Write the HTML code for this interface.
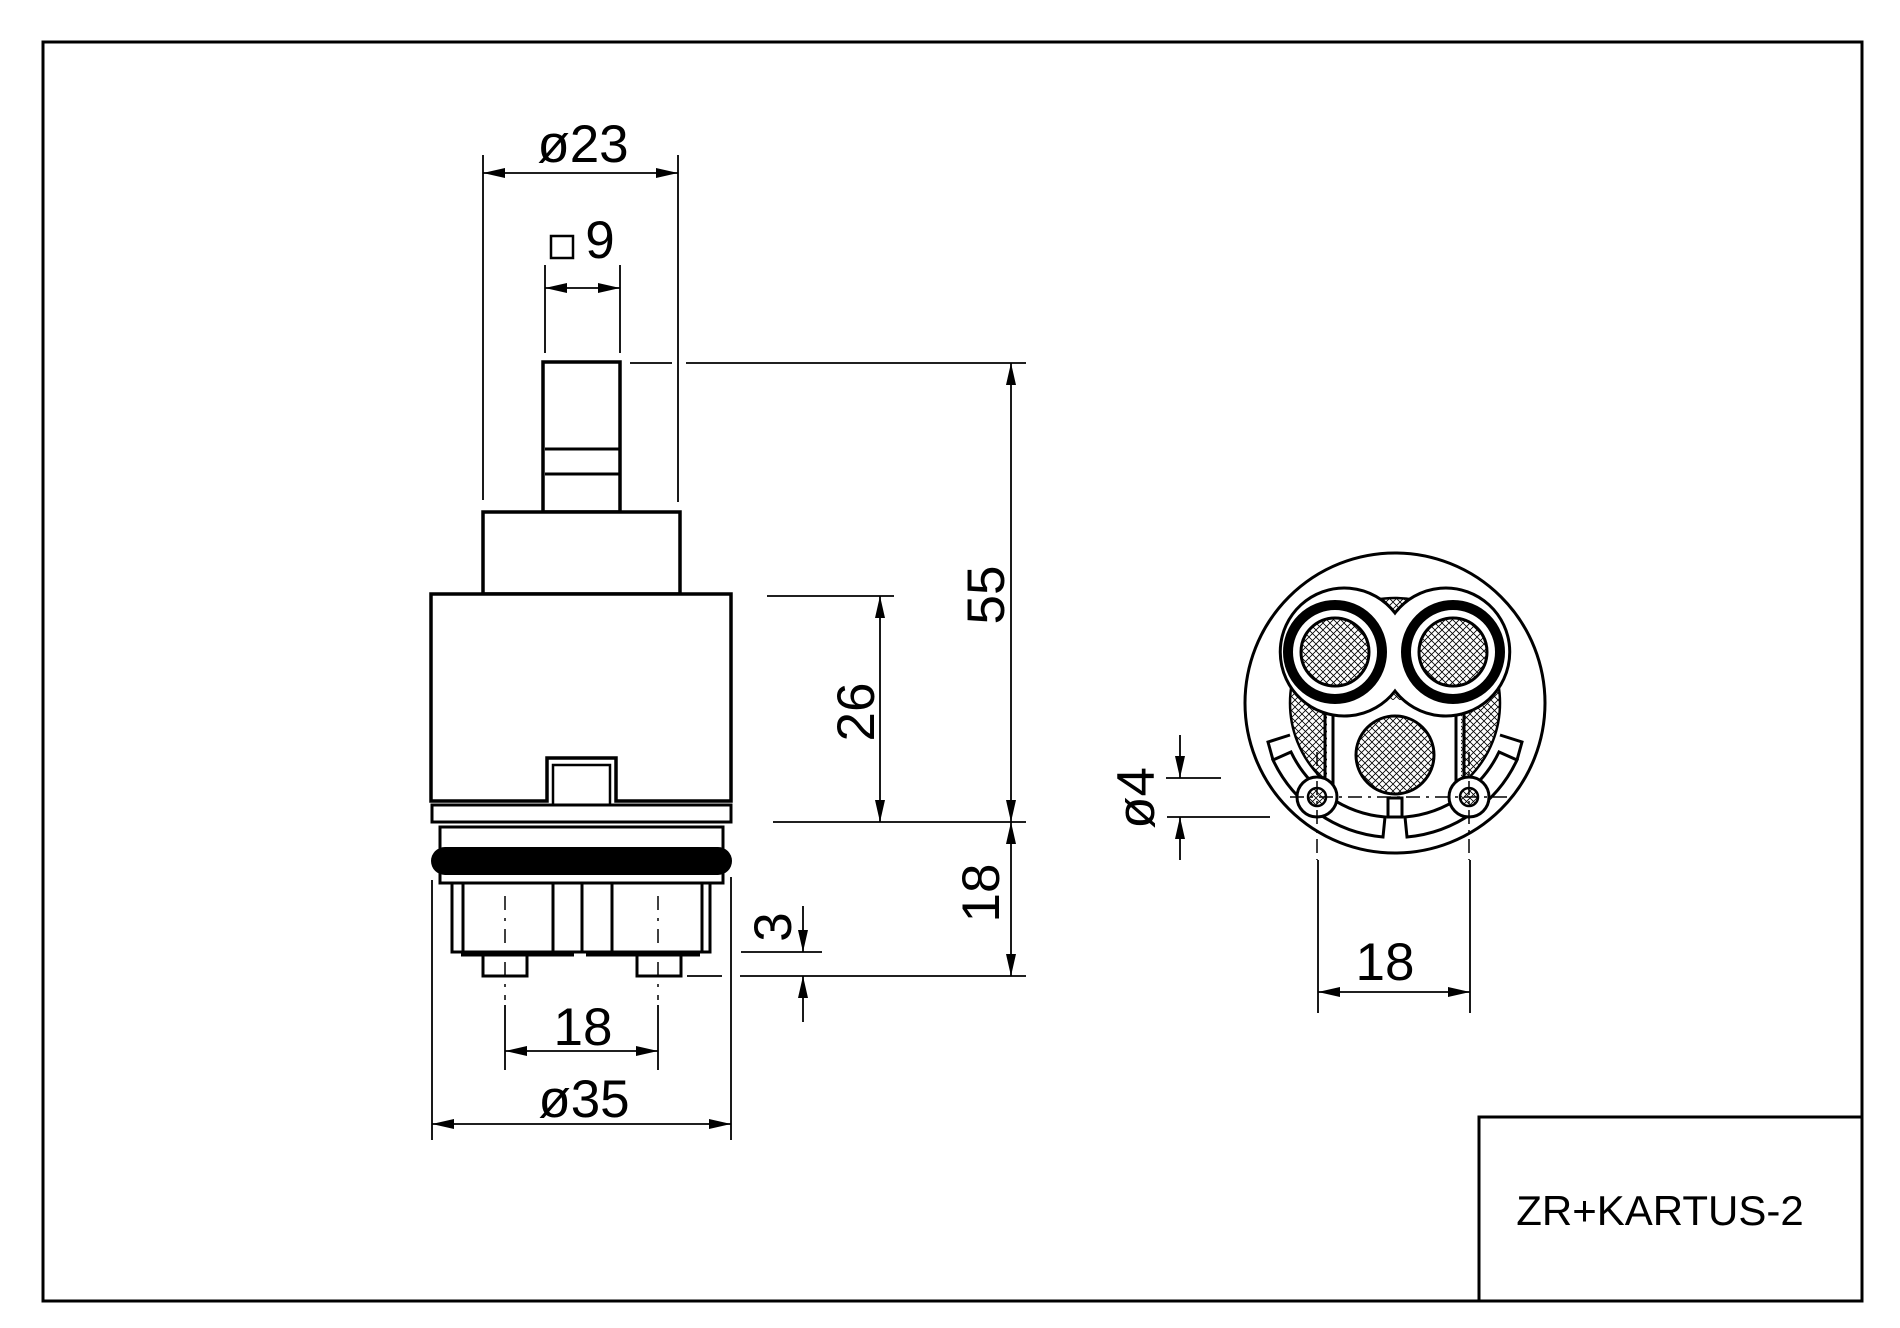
<!DOCTYPE html>
<html><head><meta charset="utf-8"><style>
html,body{margin:0;padding:0;background:#fff;}
svg{display:block;}
text{font-family:"Liberation Sans",Arial,sans-serif;fill:#000;}
</style></head><body>
<svg width="1900" height="1328" viewBox="0 0 1900 1328" xmlns="http://www.w3.org/2000/svg">
<defs>
<pattern id="h" width="7" height="7" patternUnits="userSpaceOnUse">
<rect width="7" height="7" fill="#fff"/>
<path d="M0 0L7 7M7 0L0 7" stroke="#000" stroke-width="0.8"/>
</pattern>
<marker id="a" viewBox="0 0 22 10" refX="22" refY="5" markerWidth="22" markerHeight="10" markerUnits="userSpaceOnUse" orient="auto-start-reverse"><path d="M0 0L22 5L0 10z" fill="#000"/></marker>
</defs>
<g fill="none" stroke="#000">
<rect x="43" y="42" width="1819" height="1259" stroke-width="3"/>
<rect x="1479" y="1117" width="383" height="184" stroke-width="3"/>

<g stroke-width="3.5" fill="#fff">
<rect x="543" y="362" width="77" height="150"/>
<rect x="483" y="512" width="197" height="82"/>
<path d="M431 594H731V801H616V758H547V801H431Z"/>
<rect x="432" y="805" width="299" height="17" stroke-width="3"/>
<path d="M553 805V765H610V805" fill="none" stroke-width="2.5"/>
<rect x="440" y="827" width="283" height="56" stroke-width="3"/>
<rect x="452" y="883" width="258" height="69" stroke-width="3"/>
<rect x="483" y="952" width="44" height="24" stroke-width="3"/>
<rect x="637" y="952" width="44" height="24" stroke-width="3"/>
</g>
<line x1="545" y1="449" x2="619" y2="449" stroke-width="3"/>
<line x1="545" y1="474" x2="619" y2="474" stroke-width="3"/>
<rect x="431" y="847" width="301" height="28" rx="14" fill="#000" stroke="none"/>
<g stroke-width="3">
<line x1="463" y1="883" x2="463" y2="952"/>
<line x1="702" y1="883" x2="702" y2="952"/>
<line x1="553" y1="883" x2="553" y2="952"/>
<line x1="582" y1="883" x2="582" y2="952"/>
<line x1="612" y1="883" x2="612" y2="952"/>
</g>
<g stroke-width="5">
<line x1="461" y1="954" x2="574" y2="954"/>
<line x1="586" y1="954" x2="700" y2="954"/>
</g>
<g stroke-width="1.5" stroke-dasharray="14,8,3,8">
<line x1="505" y1="896" x2="505" y2="1000"/>
<line x1="658" y1="896" x2="658" y2="1000"/>
</g>
<g stroke-width="1.8">
<line x1="505" y1="1005" x2="505" y2="1070"/>
<line x1="658" y1="1005" x2="658" y2="1070"/>
<line x1="483" y1="155" x2="483" y2="500"/>
<line x1="678" y1="155" x2="678" y2="502"/>
<line x1="545" y1="265" x2="545" y2="353"/>
<line x1="620" y1="265" x2="620" y2="353"/>
<line x1="630" y1="363" x2="672" y2="363"/>
<line x1="686" y1="363" x2="1026" y2="363"/>
<line x1="767" y1="596" x2="894" y2="596"/>
<line x1="773" y1="822" x2="1026" y2="822"/>
<line x1="687" y1="976" x2="722" y2="976"/>
<line x1="740" y1="976" x2="1026" y2="976"/>
<line x1="741" y1="952" x2="822" y2="952"/>
<line x1="432" y1="880" x2="432" y2="1140"/>
<line x1="731" y1="877" x2="731" y2="1140"/>
<line x1="483" y1="173" x2="678" y2="173" marker-start="url(#a)" marker-end="url(#a)"/>
<line x1="545" y1="288" x2="620" y2="288" marker-start="url(#a)" marker-end="url(#a)"/>
<line x1="1011" y1="363" x2="1011" y2="822" marker-start="url(#a)" marker-end="url(#a)"/>
<line x1="880" y1="596" x2="880" y2="822" marker-start="url(#a)" marker-end="url(#a)"/>
<line x1="1011" y1="822" x2="1011" y2="976" marker-start="url(#a)" marker-end="url(#a)"/>
<line x1="803" y1="906" x2="803" y2="952" marker-end="url(#a)"/>
<line x1="803" y1="1022" x2="803" y2="976" marker-end="url(#a)"/>
<line x1="505" y1="1051" x2="658" y2="1051" marker-start="url(#a)" marker-end="url(#a)"/>
<line x1="432" y1="1124" x2="731" y2="1124" marker-start="url(#a)" marker-end="url(#a)"/>
</g>
<rect x="551" y="236" width="22" height="22" stroke-width="2.5"/>

<circle cx="1395" cy="703" r="150" stroke-width="3" fill="#fff"/>
<circle cx="1395" cy="703" r="105" fill="url(#h)" stroke="#000" stroke-width="2.5"/>
<rect x="1327" y="700" width="134" height="120" fill="#fff" stroke="none"/>
<g stroke-width="3">
<line x1="1325" y1="700" x2="1325" y2="790"/>
<line x1="1333" y1="700" x2="1333" y2="790"/>
<line x1="1456" y1="700" x2="1456" y2="790"/>
<line x1="1464" y1="700" x2="1464" y2="790"/>
</g>
<circle cx="1395" cy="755" r="39" fill="url(#h)" stroke-width="3"/>
<path d="M1395 613 A64 64 0 1 0 1395 691 A64 64 0 1 0 1395 613Z" fill="#fff" stroke-width="3"/>
<g fill="none" stroke-width="10">
<circle cx="1335" cy="652" r="47"/>
<circle cx="1453" cy="652" r="47"/>
</g>
<circle cx="1335" cy="652" r="34" fill="url(#h)" stroke-width="3"/>
<circle cx="1453" cy="652" r="34" fill="url(#h)" stroke-width="3"/>
<path d="M1273 760 A135 135 0 0 0 1383 837 L1385 817 A115 115 0 0 1 1291 752 Z" fill="#fff" stroke-width="3"/>
<path d="M1517 760 A135 135 0 0 1 1407 837 L1405 817 A115 115 0 0 0 1499 752 Z" fill="#fff" stroke-width="3"/>
<path d="M1273 760 L1268 742 L1290 735" fill="none" stroke-width="3"/>
<path d="M1517 760 L1522 742 L1500 735" fill="none" stroke-width="3"/>
<rect x="1388" y="798" width="14" height="19" fill="#fff" stroke-width="3"/>
<circle cx="1317" cy="797" r="20" fill="#fff" stroke-width="3"/>
<circle cx="1469" cy="797" r="20" fill="#fff" stroke-width="3"/>
<circle cx="1317" cy="797" r="9" fill="url(#h)" stroke-width="2.5"/>
<circle cx="1469" cy="797" r="9" fill="url(#h)" stroke-width="2.5"/>
<g stroke-width="1.5" stroke-dasharray="14,6,3,6">
<line x1="1290" y1="797" x2="1512" y2="797"/>
<line x1="1317" y1="752" x2="1317" y2="860"/>
<line x1="1469" y1="752" x2="1469" y2="860"/>
</g>
<g stroke-width="1.8">
<line x1="1318" y1="860" x2="1318" y2="1013"/>
<line x1="1470" y1="860" x2="1470" y2="1013"/>
<line x1="1318" y1="992" x2="1470" y2="992" marker-start="url(#a)" marker-end="url(#a)"/>
<line x1="1166" y1="778" x2="1221" y2="778"/>
<line x1="1167" y1="817" x2="1270" y2="817"/>
<line x1="1180" y1="735" x2="1180" y2="778" marker-end="url(#a)"/>
<line x1="1180" y1="860" x2="1180" y2="817" marker-end="url(#a)"/>
</g>
</g>

<g font-size="53" text-anchor="middle">
<text x="583" y="162">ø23</text>
<text x="600" y="258">9</text>
<text x="583" y="1045">18</text>
<text x="584" y="1117">ø35</text>
<text x="1385" y="980">18</text>
<text transform="translate(1004,595) rotate(-90)">55</text>
<text transform="translate(874,712) rotate(-90)">26</text>
<text transform="translate(999,893) rotate(-90)">18</text>
<text transform="translate(791,927) rotate(-90)">3</text>
<text transform="translate(1154,798) rotate(-90)">ø4</text>
</g>
<text x="1660" y="1225" font-size="42" text-anchor="middle">ZR+KARTUS-2</text>
</svg>
</body></html>
